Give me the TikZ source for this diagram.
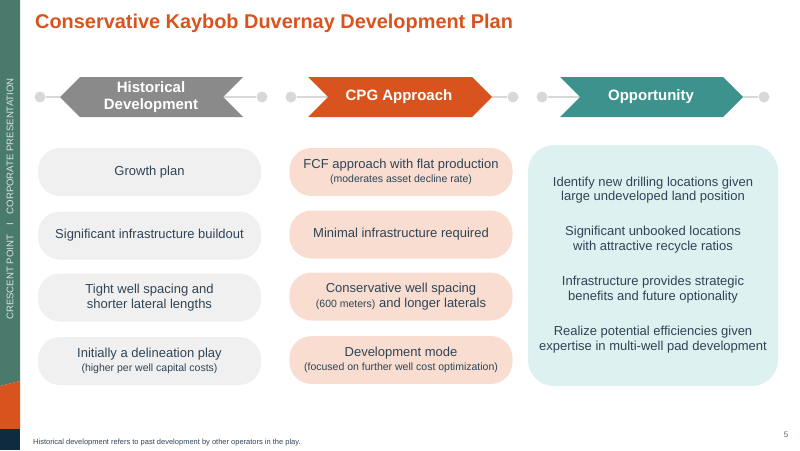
\documentclass[tikz,border=0pt]{standalone}
\usepackage{fontspec}
\setmainfont{Liberation Sans}
\definecolor{sbgreen}{HTML}{4A7A6C}
\definecolor{cporange}{HTML}{D9531E}
\definecolor{sbnavy}{HTML}{0E2B40}
\definecolor{hgray}{HTML}{8A8A8A}
\definecolor{oteal}{HTML}{3D928D}
\definecolor{dotgray}{HTML}{D8D8D8}
\definecolor{boxgray}{HTML}{F0F0F0}
\definecolor{boxpeach}{HTML}{F8DDD0}
\definecolor{boxteal}{HTML}{DDF1F0}
\definecolor{txt}{HTML}{2F4456}
\tikzset{
  dotnode/.style={circle, fill=dotgray, inner sep=0pt, minimum size=11pt},
  link/.style={draw=dotgray, line width=1.6pt},
  headtxt/.style={text=white, font=\bfseries\fontsize{15}{17.5}\selectfont, align=center},
  rowbox/.style={rounded corners=22pt, minimum width=223pt, minimum height=48pt, inner sep=0pt, align=center, text=txt, font=\fontsize{13}{14.5}\selectfont},
  grayrow/.style={rowbox, fill=boxgray},
  peachrow/.style={rowbox, fill=boxpeach},
  opptxt/.style={text=txt, align=center, font=\fontsize{13}{14.5}\selectfont, inner sep=0pt},
}
\newcommand{\smalltxt}{\fontsize{10.5}{12.5}\selectfont}
\begin{document}
\begin{tikzpicture}[x=1pt,y=-1pt]
\useasboundingbox (0,0) rectangle (800,450);
% sidebar
\fill[sbgreen] (0,0) -- (20,0) -- (20,381) -- (0,386) -- cycle;
\fill[cporange] (0,386) -- (20,381) -- (20,429) -- (0,429) -- cycle;
\fill[sbnavy] (0,429) rectangle (20,450);
\node[rotate=90, text=white!80!sbgreen, font=\fontsize{9.6}{10}\selectfont] (side) at (10,199) {CRESCENT POINT\hspace{9pt}I\hspace{9pt}CORPORATE PRESENTATION};
% title
\node[anchor=base west, inner sep=0pt, text=cporange, font=\bfseries\fontsize{19.9}{22}\selectfont] (title) at (35,28) {Conservative Kaybob Duvernay Development Plan};
% header chevrons
\coordinate (h1tip) at (60,97);
\coordinate (h1notch) at (223,97);
\coordinate (h2notch) at (328,97);
\coordinate (h2tip) at (492,97);
\coordinate (h3notch) at (580,97);
\coordinate (h3tip) at (743,97);
\node[dotnode] (d1) at (40,97) {};
\node[dotnode] (d2) at (262,97) {};
\node[dotnode] (d3) at (291,97) {};
\node[dotnode] (d4) at (513,97) {};
\node[dotnode] (d5) at (542,97) {};
\node[dotnode] (d6) at (764,97) {};
\draw[link] (d1) -- (h1tip);
\draw[link] (h1notch) -- (d2);
\draw[link] (d3) -- (h2notch);
\draw[link] (h2tip) -- (d4);
\draw[link] (d5) -- (h3notch);
\draw[link] (h3tip) -- (d6);
\fill[hgray] (h1tip) -- (80,77) -- (243,77) -- (h1notch) -- (243,117) -- (80,117) -- cycle;
\fill[cporange] (308,77) -- (472,77) -- (h2tip) -- (472,117) -- (308,117) -- (h2notch) -- cycle;
\fill[oteal] (560,77) -- (723,77) -- (h3tip) -- (723,117) -- (560,117) -- (h3notch) -- cycle;
\node[headtxt] (hist) at (151,97) {Historical\\Development};
\node[headtxt] (cpg) at (399,97) {CPG Approach};
\node[headtxt] (opp) at (651,97) {Opportunity};
% left column
\node[grayrow] (l1) at (149.5,172) {Growth plan};
\node[grayrow] (l2) at (149.5,235.5) {Significant infrastructure buildout};
\node[grayrow] (l3) at (149.5,297.5) {Tight well spacing and\\shorter lateral lengths};
\node[grayrow] (l4) at (149.5,361) {Initially a delineation play\\[-1pt]{\smalltxt(higher per well capital costs)}};
% middle column
\node[peachrow] (m1) at (401,172) {FCF approach with flat production\\[-1pt]{\smalltxt(moderates asset decline rate)}};
\node[peachrow] (m2) at (401,234.5) {Minimal infrastructure required};
\node[peachrow] (m3) at (401,296.5) {Conservative well spacing\\{\smalltxt(600 meters)} and longer laterals};
\node[peachrow] (m4) at (401,360) {Development mode\\[-1pt]{\smalltxt(focused on further well cost optimization)}};
% right box
\node[fill=boxteal, rounded corners=26pt, minimum width=250pt, minimum height=241pt, inner sep=0pt] (rbox) at (653,265.5) {};
\node[opptxt] (r1) at (653,190) {Identify new drilling locations given\\large undeveloped land position};
\node[opptxt] (r2) at (653,239.5) {Significant unbooked locations\\with attractive recycle ratios};
\node[opptxt] (r3) at (653,289.5) {Infrastructure provides strategic\\benefits and future optionality};
\node[opptxt] (r4) at (653,339.5) {Realize potential efficiencies given\\expertise in multi-well pad development};
% footer
\node[anchor=base west, inner sep=0pt, text=txt, font=\fontsize{7.5}{9}\selectfont] (foot) at (33,444) {Historical development refers to past development by other operators in the play.};
\node[anchor=base, inner sep=0pt, text=txt!80, font=\fontsize{8}{9}\selectfont] (pnum) at (786,437) {5};
\end{tikzpicture}
\end{document}
